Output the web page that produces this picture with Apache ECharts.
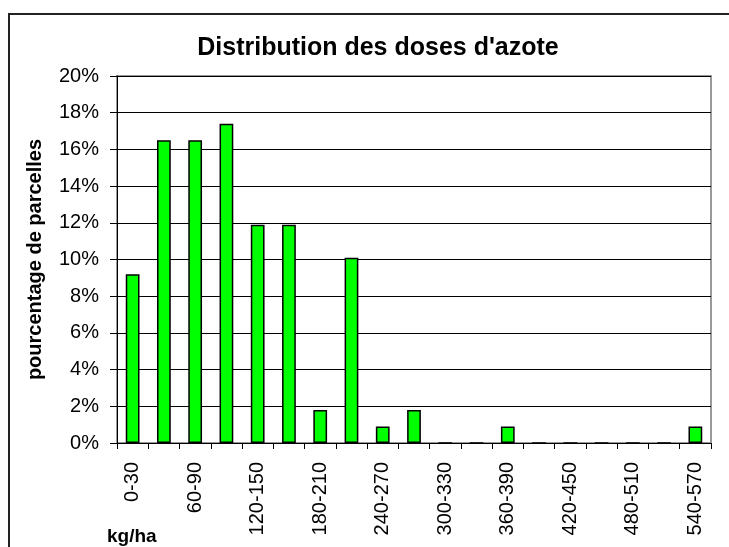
<!DOCTYPE html>
<html>
<head>
<meta charset="utf-8">
<script src="https://cdn.jsdelivr.net/npm/echarts@6/dist/echarts.min.js"></script>
<style>
html,body{margin:0;padding:0;background:#fff;}
#chart{width:729px;height:547px;}
</style>
</head>
<body>
<div id="chart"></div>
<script>
var titleText = "Distribution des doses d'azote";
var yAxisTitle = "pourcentage de parcelles";
var xAxisTitle = "kg/ha";
var categories = ["0-30","30-60","60-90","90-120","120-150","150-180","180-210","210-240","240-270","270-300","300-330","330-360","360-390","390-420","420-450","450-480","480-510","510-540","540-570"];
var percentValues = [9.2, 16.5, 16.5, 17.4, 11.9, 11.9, 1.8, 10.1, 0.9, 1.8, 0, 0, 0.9, 0, 0, 0, 0, 0, 0.9];

var chart = echarts.init(document.getElementById('chart'), null, {renderer:'canvas'});
var font = '"Liberation Sans", Arial, sans-serif';
chart.setOption({
  animation: false,
  backgroundColor: '#ffffff',
  title: {
    text: titleText,
    left: 373, top: 31, textAlign: 'center',
    textStyle: {fontFamily: font, fontSize: 25, fontWeight: 'bold', color: '#000'}
  },
  grid: {
    left: 117, right: 18, top: 76, bottom: 104,
    show: true, borderColor: '#999999', borderWidth: 2, backgroundColor: 'transparent'
  },
  graphic: [
    {type: 'rect', shape: {x: 9, y: 14, width: 760, height: 600}, style: {fill: 'none', stroke: '#222', lineWidth: 2}, z: 100},
    {type: 'text', left: 107, top: 527, style: {text: xAxisTitle, fontFamily: font, fontSize: 19, fontWeight: 'bold', fill: '#000'}}
  ],
  xAxis: {
    type: 'category',
    data: categories,
    boundaryGap: true,
    axisLine: {show: true, lineStyle: {color: '#000', width: 1}},
    axisTick: {show: true, interval: 0, length: 6, lineStyle: {color: '#000'}},
    axisLabel: {interval: 1, rotate: 90, margin: 19, fontFamily: font, fontSize: 20, color: '#000'},
    splitLine: {show: false}
  },
  yAxis: {
    type: 'value',
    min: 0, max: 20, interval: 2,
    name: yAxisTitle,
    nameLocation: 'middle',
    nameRotate: 90,
    nameGap: 72,
    nameTextStyle: {fontFamily: font, fontSize: 20, fontWeight: 'bold', color: '#000'},
    axisLine: {show: true, lineStyle: {color: '#000', width: 1}},
    axisTick: {show: true, length: 7, lineStyle: {color: '#000'}},
    axisLabel: {formatter: '{value}%', margin: 18, fontFamily: font, fontSize: 20, color: '#000'},
    splitLine: {show: true, lineStyle: {color: '#000', width: 1}}
  },
  series: [{
    type: 'bar',
    data: percentValues,
    barWidth: '44%',
    itemStyle: {color: '#00ff00', borderColor: '#000', borderWidth: 1.5}
  }]
});
</script>
</body>
</html>
